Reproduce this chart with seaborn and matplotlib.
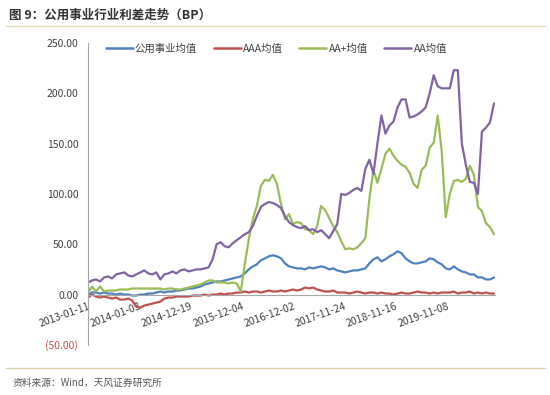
import pandas as pd
import numpy as np
import matplotlib
matplotlib.use("Agg")
import matplotlib.pyplot as plt
import seaborn as sns
from matplotlib.lines import Line2D

# ---------------- DATA ----------------
# one value every 4 weeks, starting 2013-01-11
step = 4

utility = [0, 2, 2, 1, 2, 1, 1, 0, 1, 0, 0, -1, -1, 0, 0, 1, 1, 2, 3, 2,
           3, 3, 4, 4, 5, 6, 6, 7, 8, 10, 11, 12, 13, 13, 14, 15, 16, 17, 18, 21,
           25, 28, 30, 34, 36, 38, 39, 38, 36, 31, 28, 27, 26, 26, 25, 27, 26, 27, 28, 27,
           25, 26, 24, 23, 22, 23, 24, 24, 25, 26, 31, 35, 37, 33, 35, 38, 40, 43, 41, 36,
           33, 31, 31, 32, 33, 36, 35, 32, 30, 26, 25, 28, 25, 23, 22, 20, 20, 17, 17, 15,
           15, 17]

aaa = [-3, 0, -2, -3, -2, -3, -4, -3, -5, -5, -4, -6, -12, -13, -11, -10, -9, -8, -7, -4,
       -3, -3, -2, -2, -2, -2, -1, -1, -1, 0, -1, 0, 0, 1, 0, 1, 1, 2, 2, 3,
       2, 3, 3, 2, 3, 4, 3, 3, 4, 3, 4, 5, 4, 5, 7, 6, 7, 5, 4, 3,
       3, 4, 2, 2, 2, 1, 2, 3, 2, 1, 2, 2, 1, 2, 1, 1, 0, 1, 2, 1,
       1, 2, 3, 2, 2, 1, 2, 1, 2, 2, 2, 3, 1, 2, 2, 3, 1, 2, 1, 2,
       1, 1]

aa_plus = [2, 8, 3, 8, 3, 4, 4, 4, 5, 5, 5, 6, 6, 6, 6, 6, 6, 6, 6, 5,
           6, 6, 5, 5, 6, 7, 8, 9, 10, 12, 14, 14, 12, 12, 12, 11, 12, 11, 3, 30,
           55, 75, 88, 108, 114, 113, 119, 110, 90, 75, 80, 70, 72, 71, 65, 64, 60, 68, 88, 84,
           76, 68, 62, 53, 45, 46, 45, 47, 51, 56, 95, 124, 111, 125, 140, 145, 138, 133, 129, 127,
           121, 110, 106, 124, 128, 146, 151, 178, 142, 77, 100, 113, 114, 112, 115, 128, 119, 87, 83, 71,
           67, 60]

aa = [12, 14, 15, 13, 17, 18, 16, 20, 21, 22, 19, 18, 20, 22, 24, 21, 20, 22, 15, 20,
      21, 23, 21, 24, 25, 23, 24, 25, 25, 26, 27, 35, 50, 52, 48, 47, 51, 54, 57, 60,
      62, 68, 78, 87, 90, 92, 91, 89, 86, 78, 72, 69, 67, 66, 68, 64, 65, 62, 64, 60,
      56, 63, 70, 100, 99, 101, 104, 106, 103, 125, 134, 120, 150, 178, 160, 168, 172, 186, 194, 194,
      176, 177, 179, 182, 186, 200, 218, 207, 205, 205, 205, 223, 223, 150, 129, 112, 111, 100, 162, 166,
      171, 190]

series_names = ["公用事业均值", "AAA均值", "AA+均值", "AA均值"]
colors = ["#4F81BD", "#C0504D", "#9BBB59", "#8064A2"]

tick_weeks = [0, 51, 102, 153, 204, 255, 306, 357, 405]
tick_labels = ["2013-01-11", "2014-01-03", "2014-12-19", "2015-12-04",
               "2016-12-02", "2017-11-24", "2018-11-16", "2019-11-08", ""]

# ---------------- FRAME ----------------
week = np.arange(len(utility)) * step
df = pd.DataFrame({"week": week,
                   series_names[0]: utility,
                   series_names[1]: aaa,
                   series_names[2]: aa_plus,
                   series_names[3]: aa})
long_df = df.melt(id_vars="week", var_name="series", value_name="bp")

# ---------------- PLOT ----------------
sns.set_style("white")
plt.rcParams["font.family"] = ["Noto Sans CJK SC", "DejaVu Sans"]

fig = plt.figure(figsize=(5.5, 3.95), dpi=100)
ax = fig.add_axes([0.16, 0.127, 0.74, 0.764])

sns.lineplot(data=long_df, x="week", y="bp", hue="series", hue_order=series_names,
             palette=dict(zip(series_names, colors)), linewidth=1.6, ax=ax, legend=False)

ax.set_xlim(0, 405)
ax.set_ylim(-50, 250)
ax.set_xlabel("")
ax.set_ylabel("")

for s in ["top", "right"]:
    ax.spines[s].set_visible(False)
ax.spines["left"].set_color("#a6a6a6")
ax.spines["bottom"].set_color("#a6a6a6")
ax.spines["bottom"].set_position(("data", 0))

yt = [-50, 0, 50, 100, 150, 200, 250]
ax.set_yticks(yt)
ax.set_yticklabels([f"({abs(v):.2f})" if v < 0 else f"{v:.2f}" for v in yt], fontsize=7.5, color="#404040")
for lab, v in zip(ax.get_yticklabels(), yt):
    if v < 0:
        lab.set_color("#C0504D")

ax.set_xticks(tick_weeks)
ax.set_xticklabels(tick_labels, fontsize=7.5, color="#404040", rotation=20,
                   ha="right", rotation_mode="anchor")
ax.tick_params(axis="both", direction="out", length=3, color="#a6a6a6", pad=2)
ax.tick_params(axis="y", pad=4)

handles = [Line2D([], [], color=c, lw=1.8) for c in colors]
ax.legend(handles, series_names, ncol=4, frameon=False, fontsize=7.5,
          loc="upper left", bbox_to_anchor=(0.02, 1.03), handlelength=2.6,
          handletextpad=0.2, columnspacing=1.6, labelcolor="#404040")

# title, rules and source
fig.text(0.016, 0.962, "图 9：公用事业行业利差走势（BP）", fontsize=9, fontweight="bold",
         color="#333333", va="center")
fig.add_artist(Line2D([0.01, 0.99], [0.935, 0.935], color="#e0d8b0", lw=1))
fig.add_artist(Line2D([0.01, 0.99], [0.068, 0.068], color="#d8cfa8", lw=1))
fig.text(0.022, 0.03, "资料来源：Wind，天风证券研究所", fontsize=7, color="#555555", va="center")

fig.savefig("out.png", dpi=100)
